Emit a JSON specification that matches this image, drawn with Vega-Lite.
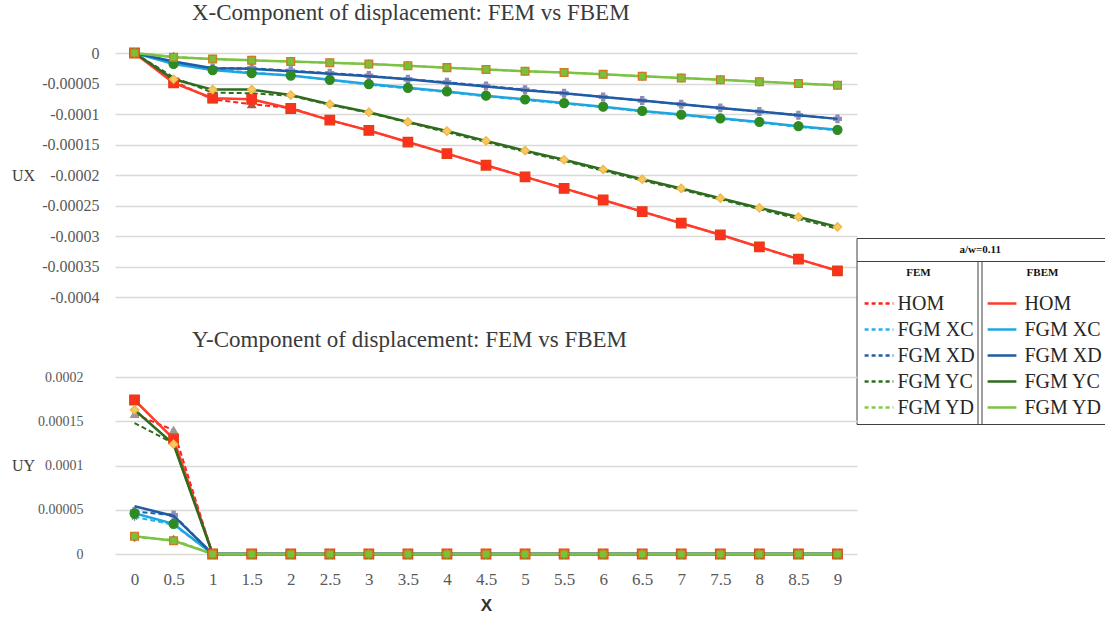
{
"$schema":"https://vega.github.io/schema/vega-lite/v6.json",
"padding":{"left":11,"top":2,"right":0,"bottom":0},
"bounds":"flush",
"spacing":80,
"config":{"view":{"stroke":null},"background":"white"},
"data":{"values":[
{"s":"HOM","x":0,"fem_ux":0,"fbem_ux":0,"fem_uy":0.000158,"fbem_uy":0.000174},
{"s":"HOM","x":0.5,"fem_ux":-0.000046,"fbem_ux":-0.000049,"fem_uy":0.00014,"fbem_uy":0.00013},
{"s":"HOM","x":1,"fem_ux":-0.000076,"fbem_ux":-0.000074,"fem_uy":0,"fbem_uy":0},
{"s":"HOM","x":1.5,"fem_ux":-0.000084,"fbem_ux":-0.000076,"fem_uy":0,"fbem_uy":0},
{"s":"HOM","x":2,"fem_ux":-0.00009,"fbem_ux":-0.000091,"fem_uy":0,"fbem_uy":0},
{"s":"HOM","x":2.5,"fem_ux":-0.00011,"fbem_ux":-0.00011,"fem_uy":0,"fbem_uy":0},
{"s":"HOM","x":3,"fem_ux":-0.000127,"fbem_ux":-0.000127,"fem_uy":0,"fbem_uy":0},
{"s":"HOM","x":3.5,"fem_ux":-0.000146,"fbem_ux":-0.000146,"fem_uy":0,"fbem_uy":0},
{"s":"HOM","x":4,"fem_ux":-0.000165,"fbem_ux":-0.000165,"fem_uy":0,"fbem_uy":0},
{"s":"HOM","x":4.5,"fem_ux":-0.000184,"fbem_ux":-0.000184,"fem_uy":0,"fbem_uy":0},
{"s":"HOM","x":5,"fem_ux":-0.000203,"fbem_ux":-0.000203,"fem_uy":0,"fbem_uy":0},
{"s":"HOM","x":5.5,"fem_ux":-0.000222,"fbem_ux":-0.000222,"fem_uy":0,"fbem_uy":0},
{"s":"HOM","x":6,"fem_ux":-0.000241,"fbem_ux":-0.000241,"fem_uy":0,"fbem_uy":0},
{"s":"HOM","x":6.5,"fem_ux":-0.00026,"fbem_ux":-0.00026,"fem_uy":0,"fbem_uy":0},
{"s":"HOM","x":7,"fem_ux":-0.000279,"fbem_ux":-0.000279,"fem_uy":0,"fbem_uy":0},
{"s":"HOM","x":7.5,"fem_ux":-0.000298,"fbem_ux":-0.000298,"fem_uy":0,"fbem_uy":0},
{"s":"HOM","x":8,"fem_ux":-0.000318,"fbem_ux":-0.000318,"fem_uy":0,"fbem_uy":0},
{"s":"HOM","x":8.5,"fem_ux":-0.000338,"fbem_ux":-0.000338,"fem_uy":0,"fbem_uy":0},
{"s":"HOM","x":9,"fem_ux":-0.000357,"fbem_ux":-0.000357,"fem_uy":0,"fbem_uy":0},
{"s":"FGM XC","x":0,"fem_ux":0,"fbem_ux":0,"fem_uy":0.000042,"fbem_uy":0.000046},
{"s":"FGM XC","x":0.5,"fem_ux":-0.000016,"fbem_ux":-0.000018,"fem_uy":0.000033,"fbem_uy":0.000034},
{"s":"FGM XC","x":1,"fem_ux":-0.000027,"fbem_ux":-0.000028,"fem_uy":0,"fbem_uy":0},
{"s":"FGM XC","x":1.5,"fem_ux":-0.000032,"fbem_ux":-0.000033,"fem_uy":0,"fbem_uy":0},
{"s":"FGM XC","x":2,"fem_ux":-0.000037,"fbem_ux":-0.000037,"fem_uy":0,"fbem_uy":0},
{"s":"FGM XC","x":2.5,"fem_ux":-0.000044,"fbem_ux":-0.000044,"fem_uy":0,"fbem_uy":0},
{"s":"FGM XC","x":3,"fem_ux":-0.000052,"fbem_ux":-0.000051,"fem_uy":0,"fbem_uy":0},
{"s":"FGM XC","x":3.5,"fem_ux":-0.000058,"fbem_ux":-0.000057,"fem_uy":0,"fbem_uy":0},
{"s":"FGM XC","x":4,"fem_ux":-0.000064,"fbem_ux":-0.000063,"fem_uy":0,"fbem_uy":0},
{"s":"FGM XC","x":4.5,"fem_ux":-0.000071,"fbem_ux":-0.00007,"fem_uy":0,"fbem_uy":0},
{"s":"FGM XC","x":5,"fem_ux":-0.000077,"fbem_ux":-0.000076,"fem_uy":0,"fbem_uy":0},
{"s":"FGM XC","x":5.5,"fem_ux":-0.000083,"fbem_ux":-0.000082,"fem_uy":0,"fbem_uy":0},
{"s":"FGM XC","x":6,"fem_ux":-0.000089,"fbem_ux":-0.000088,"fem_uy":0,"fbem_uy":0},
{"s":"FGM XC","x":6.5,"fem_ux":-0.000096,"fbem_ux":-0.000095,"fem_uy":0,"fbem_uy":0},
{"s":"FGM XC","x":7,"fem_ux":-0.000102,"fbem_ux":-0.000101,"fem_uy":0,"fbem_uy":0},
{"s":"FGM XC","x":7.5,"fem_ux":-0.000108,"fbem_ux":-0.000107,"fem_uy":0,"fbem_uy":0},
{"s":"FGM XC","x":8,"fem_ux":-0.000114,"fbem_ux":-0.000113,"fem_uy":0,"fbem_uy":0},
{"s":"FGM XC","x":8.5,"fem_ux":-0.000121,"fbem_ux":-0.00012,"fem_uy":0,"fbem_uy":0},
{"s":"FGM XC","x":9,"fem_ux":-0.000127,"fbem_ux":-0.000126,"fem_uy":0,"fbem_uy":0},
{"s":"FGM XD","x":0,"fem_ux":0,"fbem_ux":0,"fem_uy":0.000048,"fbem_uy":0.000054},
{"s":"FGM XD","x":0.5,"fem_ux":-0.000016,"fbem_ux":-0.000014,"fem_uy":0.000044,"fbem_uy":0.000043},
{"s":"FGM XD","x":1,"fem_ux":-0.000025,"fbem_ux":-0.000025,"fem_uy":0,"fbem_uy":0},
{"s":"FGM XD","x":1.5,"fem_ux":-0.000025,"fbem_ux":-0.000026,"fem_uy":0,"fbem_uy":0},
{"s":"FGM XD","x":2,"fem_ux":-0.000029,"fbem_ux":-0.00003,"fem_uy":0,"fbem_uy":0},
{"s":"FGM XD","x":2.5,"fem_ux":-0.000033,"fbem_ux":-0.000034,"fem_uy":0,"fbem_uy":0},
{"s":"FGM XD","x":3,"fem_ux":-0.000037,"fbem_ux":-0.000038,"fem_uy":0,"fbem_uy":0},
{"s":"FGM XD","x":3.5,"fem_ux":-0.000043,"fbem_ux":-0.000043,"fem_uy":0,"fbem_uy":0},
{"s":"FGM XD","x":4,"fem_ux":-0.000048,"fbem_ux":-0.000049,"fem_uy":0,"fbem_uy":0},
{"s":"FGM XD","x":4.5,"fem_ux":-0.000054,"fbem_ux":-0.000055,"fem_uy":0,"fbem_uy":0},
{"s":"FGM XD","x":5,"fem_ux":-0.00006,"fbem_ux":-0.000061,"fem_uy":0,"fbem_uy":0},
{"s":"FGM XD","x":5.5,"fem_ux":-0.000066,"fbem_ux":-0.000066,"fem_uy":0,"fbem_uy":0},
{"s":"FGM XD","x":6,"fem_ux":-0.000072,"fbem_ux":-0.000072,"fem_uy":0,"fbem_uy":0},
{"s":"FGM XD","x":6.5,"fem_ux":-0.000078,"fbem_ux":-0.000078,"fem_uy":0,"fbem_uy":0},
{"s":"FGM XD","x":7,"fem_ux":-0.000084,"fbem_ux":-0.000084,"fem_uy":0,"fbem_uy":0},
{"s":"FGM XD","x":7.5,"fem_ux":-0.00009,"fbem_ux":-0.00009,"fem_uy":0,"fbem_uy":0},
{"s":"FGM XD","x":8,"fem_ux":-0.000096,"fbem_ux":-0.000096,"fem_uy":0,"fbem_uy":0},
{"s":"FGM XD","x":8.5,"fem_ux":-0.000102,"fbem_ux":-0.000102,"fem_uy":0,"fbem_uy":0},
{"s":"FGM XD","x":9,"fem_ux":-0.000108,"fbem_ux":-0.000108,"fem_uy":0,"fbem_uy":0},
{"s":"FGM YC","x":0,"fem_ux":0,"fbem_ux":0,"fem_uy":0.000148,"fbem_uy":0.000163},
{"s":"FGM YC","x":0.5,"fem_ux":-0.00004,"fbem_ux":-0.000043,"fem_uy":0.000125,"fbem_uy":0.000124},
{"s":"FGM YC","x":1,"fem_ux":-0.000065,"fbem_ux":-0.00006,"fem_uy":0,"fbem_uy":0},
{"s":"FGM YC","x":1.5,"fem_ux":-0.000066,"fbem_ux":-0.00006,"fem_uy":0,"fbem_uy":0},
{"s":"FGM YC","x":2,"fem_ux":-0.00007,"fbem_ux":-0.000069,"fem_uy":0,"fbem_uy":0},
{"s":"FGM YC","x":2.5,"fem_ux":-0.000085,"fbem_ux":-0.000084,"fem_uy":0,"fbem_uy":0},
{"s":"FGM YC","x":3,"fem_ux":-0.000098,"fbem_ux":-0.000097,"fem_uy":0,"fbem_uy":0},
{"s":"FGM YC","x":3.5,"fem_ux":-0.000114,"fbem_ux":-0.000113,"fem_uy":0,"fbem_uy":0},
{"s":"FGM YC","x":4,"fem_ux":-0.00013,"fbem_ux":-0.000128,"fem_uy":0,"fbem_uy":0},
{"s":"FGM YC","x":4.5,"fem_ux":-0.000146,"fbem_ux":-0.000144,"fem_uy":0,"fbem_uy":0},
{"s":"FGM YC","x":5,"fem_ux":-0.000162,"fbem_ux":-0.00016,"fem_uy":0,"fbem_uy":0},
{"s":"FGM YC","x":5.5,"fem_ux":-0.000177,"fbem_ux":-0.000175,"fem_uy":0,"fbem_uy":0},
{"s":"FGM YC","x":6,"fem_ux":-0.000193,"fbem_ux":-0.000191,"fem_uy":0,"fbem_uy":0},
{"s":"FGM YC","x":6.5,"fem_ux":-0.000209,"fbem_ux":-0.000207,"fem_uy":0,"fbem_uy":0},
{"s":"FGM YC","x":7,"fem_ux":-0.000224,"fbem_ux":-0.000222,"fem_uy":0,"fbem_uy":0},
{"s":"FGM YC","x":7.5,"fem_ux":-0.00024,"fbem_ux":-0.000238,"fem_uy":0,"fbem_uy":0},
{"s":"FGM YC","x":8,"fem_ux":-0.000256,"fbem_ux":-0.000254,"fem_uy":0,"fbem_uy":0},
{"s":"FGM YC","x":8.5,"fem_ux":-0.000272,"fbem_ux":-0.000269,"fem_uy":0,"fbem_uy":0},
{"s":"FGM YC","x":9,"fem_ux":-0.000288,"fbem_ux":-0.000285,"fem_uy":0,"fbem_uy":0},
{"s":"FGM YD","x":0,"fem_ux":0,"fbem_ux":0,"fem_uy":0.000019,"fbem_uy":0.00002},
{"s":"FGM YD","x":0.5,"fem_ux":-0.000006,"fbem_ux":-0.000007,"fem_uy":0.000016,"fbem_uy":0.000015},
{"s":"FGM YD","x":1,"fem_ux":-0.00001,"fbem_ux":-0.00001,"fem_uy":0,"fbem_uy":0},
{"s":"FGM YD","x":1.5,"fem_ux":-0.000012,"fbem_ux":-0.000012,"fem_uy":0,"fbem_uy":0},
{"s":"FGM YD","x":2,"fem_ux":-0.000014,"fbem_ux":-0.000014,"fem_uy":0,"fbem_uy":0},
{"s":"FGM YD","x":2.5,"fem_ux":-0.000016,"fbem_ux":-0.000016,"fem_uy":0,"fbem_uy":0},
{"s":"FGM YD","x":3,"fem_ux":-0.000018,"fbem_ux":-0.000018,"fem_uy":0,"fbem_uy":0},
{"s":"FGM YD","x":3.5,"fem_ux":-0.000021,"fbem_ux":-0.000021,"fem_uy":0,"fbem_uy":0},
{"s":"FGM YD","x":4,"fem_ux":-0.000024,"fbem_ux":-0.000024,"fem_uy":0,"fbem_uy":0},
{"s":"FGM YD","x":4.5,"fem_ux":-0.000027,"fbem_ux":-0.000027,"fem_uy":0,"fbem_uy":0},
{"s":"FGM YD","x":5,"fem_ux":-0.00003,"fbem_ux":-0.00003,"fem_uy":0,"fbem_uy":0},
{"s":"FGM YD","x":5.5,"fem_ux":-0.000032,"fbem_ux":-0.000032,"fem_uy":0,"fbem_uy":0},
{"s":"FGM YD","x":6,"fem_ux":-0.000035,"fbem_ux":-0.000035,"fem_uy":0,"fbem_uy":0},
{"s":"FGM YD","x":6.5,"fem_ux":-0.000038,"fbem_ux":-0.000038,"fem_uy":0,"fbem_uy":0},
{"s":"FGM YD","x":7,"fem_ux":-0.000041,"fbem_ux":-0.000041,"fem_uy":0,"fbem_uy":0},
{"s":"FGM YD","x":7.5,"fem_ux":-0.000044,"fbem_ux":-0.000044,"fem_uy":0,"fbem_uy":0},
{"s":"FGM YD","x":8,"fem_ux":-0.000047,"fbem_ux":-0.000047,"fem_uy":0,"fbem_uy":0},
{"s":"FGM YD","x":8.5,"fem_ux":-0.00005,"fbem_ux":-0.00005,"fem_uy":0,"fbem_uy":0},
{"s":"FGM YD","x":9,"fem_ux":-0.000053,"fbem_ux":-0.000053,"fem_uy":0,"fbem_uy":0}
]},
"vconcat":[
{
"width":742,"height":244,
"title":{"text":"X-Component of displacement: FEM vs FBEM","anchor":"start","frame":"group","dx":77,"font":"Liberation Serif","fontSize":23,"fontWeight":"normal","color":"#3a3a3a","baseline":"alphabetic","offset":2},
"layer":[
{"data":{"values":[{"k":"a/w=0.11"},{"k":"zz"}]},"mark":{"type":"point","opacity":0},
 "encoding":{"color":{"field":"k","type":"nominal","scale":{"domain":["a/w=0.11","zz"],"range":["#000000","#000000"]},
  "legend":{"title":null,"orient":"none","direction":"horizontal","columns":2,"columnPadding":84,"legendX":741.5,"legendY":185,"strokeColor":"#404040","padding":6,"symbolSize":0,"symbolOpacity":0,"symbolOffset":0,"labelOffset":86,"labelFont":"Liberation Serif","labelFontSize":11,"labelFontWeight":"bold","labelColor":"#111111","labelExpr":"datum.label == 'zz' ? '' : datum.label"}}}},
{"encoding":{
  "x":{"field":"x","type":"quantitative","scale":{"domain":[-0.25,9.25],"nice":false,"zero":false},"axis":null},
  "y":{"field":"fem_ux","type":"quantitative","scale":{"domain":[-0.0004,0],"nice":false,"zero":false},
   "axis":{"values":[0,-0.00005,-0.0001,-0.00015,-0.0002,-0.00025,-0.0003,-0.00035,-0.0004],"labelExpr":"'' + datum.value","grid":true,"gridColor":"#d9d9d9","gridWidth":1.3,"domain":false,"ticks":false,"labelFont":"Liberation Serif","labelFontSize":16,"labelColor":"#595959","labelPadding":16,"title":"UX","titleAngle":0,"titleAlign":"right","titleBaseline":"middle","titleX":-80.5,"titleY":122,"titleFont":"Liberation Serif","titleFontSize":16,"titleFontWeight":"normal","titleColor":"#404040"}}},
 "layer":[
  {"mark":{"type":"line","strokeWidth":2,"strokeDash":[5,3]},
   "encoding":{"color":{"field":"s","type":"nominal","scale":{"domain":["HOM","FGM XC","FGM XD","FGM YC","FGM YD"],"range":["#ff1f1f","#2db0e8","#2060a8","#2f6e22","#86c94a"]},
    "legend":{"title":"FEM","orient":"none","legendX":741.5,"legendY":208,"strokeColor":"#404040","padding":6,"symbolType":"M-1.6,0L1.6,0","symbolSize":324,"symbolStrokeWidth":2.5,"symbolDash":[4,3],"symbolOffset":6,"labelOffset":8,"labelFont":"Liberation Serif","labelFontSize":20,"labelColor":"#262626","labelLimit":200,"titleFont":"Liberation Serif","titleFontSize":11,"titleFontWeight":"bold","titleColor":"#111111","titleAnchor":"middle","titlePadding":15,"rowPadding":5}}}},
  {"transform":[{"filter":"datum.s !== 'FGM YC'"}],
   "mark":{"type":"point","filled":true,"opacity":1,"strokeWidth":1.2,"size":60},
   "encoding":{
    "shape":{"field":"s","type":"nominal","scale":{"domain":["HOM","FGM XC","FGM XD","FGM YD"],"range":["triangle-up","M-1,0L1,0M0,-1L0,1M-0.7,-0.7L0.7,0.7M-0.7,0.7L0.7,-0.7","cross","diamond"]},"legend":null},
    "fill":{"field":"s","type":"nominal","scale":{"domain":["HOM","FGM XC","FGM XD","FGM YD"],"range":["#b5524a","#4c8c6a","#8e8cb8","#2e75b6"]},"legend":null},
    "stroke":{"field":"s","type":"nominal","scale":{"domain":["HOM","FGM XC","FGM XD","FGM YD"],"range":["#b5524a","#4c8c6a","#8e8cb8","#2e75b6"]},"legend":null}}}
 ]},
{"encoding":{
  "x":{"field":"x","type":"quantitative","scale":{"domain":[-0.25,9.25],"nice":false,"zero":false},"axis":null},
  "y":{"field":"fbem_ux","type":"quantitative","scale":{"domain":[-0.0004,0],"nice":false,"zero":false},
   "axis":{"values":[0,-0.00005,-0.0001,-0.00015,-0.0002,-0.00025,-0.0003,-0.00035,-0.0004],"labelExpr":"'' + datum.value","grid":true,"gridColor":"#d9d9d9","gridWidth":1.3,"domain":false,"ticks":false,"labelFont":"Liberation Serif","labelFontSize":16,"labelColor":"#595959","labelPadding":16,"title":"UX","titleAngle":0,"titleAlign":"right","titleBaseline":"middle","titleX":-80.5,"titleY":122,"titleFont":"Liberation Serif","titleFontSize":16,"titleFontWeight":"normal","titleColor":"#404040"}}},
 "layer":[
  {"mark":{"type":"line","strokeWidth":2.5},
   "encoding":{"color":{"field":"s","type":"nominal","scale":{"domain":["HOM","FGM XC","FGM XD","FGM YC","FGM YD"],"range":["#ff3b2a","#1ea6e0","#1f5ca5","#2e6b1e","#7cc243"]},
    "legend":{"title":"FBEM","orient":"none","legendX":862.5,"legendY":208,"strokeColor":"#404040","padding":6,"symbolType":"M-1.6,0L1.6,0","symbolSize":324,"symbolStrokeWidth":2.5,"symbolOffset":8,"labelOffset":12,"labelFont":"Liberation Serif","labelFontSize":20,"labelColor":"#262626","labelLimit":200,"titleFont":"Liberation Serif","titleFontSize":11,"titleFontWeight":"bold","titleColor":"#111111","titleAnchor":"middle","titlePadding":15,"rowPadding":5}}}},
  {"transform":[{"filter":"datum.s !== 'FGM XD'"}],
   "mark":{"type":"point","filled":true,"opacity":1,"strokeWidth":1.3},
   "encoding":{
    "shape":{"field":"s","type":"nominal","scale":{"domain":["HOM","FGM XC","FGM YC","FGM YD"],"range":["square","circle","diamond","square"]},"legend":null},
    "size":{"field":"s","type":"nominal","scale":{"domain":["HOM","FGM XC","FGM YC","FGM YD"],"range":[90,60,60,90]},"legend":null},
    "fill":{"field":"s","type":"nominal","scale":{"domain":["HOM","FGM XC","FGM YC","FGM YD"],"range":["#ff3020","#2e8b22","#f8c866","#76c23b"]},"legend":null},
    "stroke":{"field":"s","type":"nominal","scale":{"domain":["HOM","FGM XC","FGM YC","FGM YD"],"range":["#e04010","#2e8b22","#f0b840","#d2781e"]},"legend":null}}}
 ]}
],
"resolve":{"scale":{"color":"independent","fill":"independent","stroke":"independent","shape":"independent","size":"independent"}}
},
{
"width":742,"height":177,
"title":{"text":"Y-Component of displacement: FEM vs FBEM","anchor":"start","frame":"group","dx":77,"font":"Liberation Serif","fontSize":23,"fontWeight":"normal","color":"#3a3a3a","baseline":"alphabetic","offset":0},
"layer":[
{"encoding":{
  "x":{"field":"x","type":"quantitative","scale":{"domain":[-0.25,9.25],"nice":false,"zero":false},
   "axis":{"values":[0,0.5,1,1.5,2,2.5,3,3.5,4,4.5,5,5.5,6,6.5,7,7.5,8,8.5,9],"labelExpr":"'' + datum.value","grid":false,"ticks":false,"domain":false,"labelFont":"Liberation Serif","labelFontSize":17,"labelColor":"#595959","labelPadding":17,"title":"X","titleFont":"Liberation Sans","titleFontSize":17,"titleFontWeight":"bold","titleColor":"#333333","titlePadding":10}},
  "y":{"field":"fem_uy","type":"quantitative","scale":{"domain":[0,0.0002],"nice":false,"zero":false},
   "axis":{"values":[0,0.00005,0.0001,0.00015,0.0002],"labelExpr":"'' + datum.value","grid":true,"gridColor":"#d9d9d9","gridWidth":1.3,"domain":false,"ticks":false,"labelFont":"Liberation Serif","labelFontSize":14,"labelColor":"#595959","labelPadding":32,"title":"UY","titleAngle":0,"titleAlign":"right","titleBaseline":"middle","titleX":-80.5,"titleY":88,"titleFont":"Liberation Serif","titleFontSize":16,"titleFontWeight":"normal","titleColor":"#404040"}}},
 "layer":[
  {"mark":{"type":"line","strokeWidth":2,"strokeDash":[5,3]},
   "encoding":{"color":{"field":"s","type":"nominal","scale":{"domain":["HOM","FGM XC","FGM XD","FGM YC","FGM YD"],"range":["#ff1f1f","#2db0e8","#2060a8","#2f6e22","#86c94a"]},"legend":null}}},
  {"transform":[{"filter":"datum.s !== 'FGM YC'"}],
   "mark":{"type":"point","filled":true,"opacity":1,"strokeWidth":1.2,"size":60},
   "encoding":{
    "shape":{"field":"s","type":"nominal","scale":{"domain":["HOM","FGM XC","FGM XD","FGM YD"],"range":["triangle-up","M-1,0L1,0M0,-1L0,1M-0.7,-0.7L0.7,0.7M-0.7,0.7L0.7,-0.7","cross","diamond"]},"legend":null},
    "fill":{"field":"s","type":"nominal","scale":{"domain":["HOM","FGM XC","FGM XD","FGM YD"],"range":["#9a9a9a","#4c8c6a","#8e8cb8","#2e75b6"]},"legend":null},
    "stroke":{"field":"s","type":"nominal","scale":{"domain":["HOM","FGM XC","FGM XD","FGM YD"],"range":["#9a9a9a","#4c8c6a","#8e8cb8","#2e75b6"]},"legend":null}}}
 ]},
{"encoding":{
  "x":{"field":"x","type":"quantitative","scale":{"domain":[-0.25,9.25],"nice":false,"zero":false},
   "axis":{"values":[0,0.5,1,1.5,2,2.5,3,3.5,4,4.5,5,5.5,6,6.5,7,7.5,8,8.5,9],"labelExpr":"'' + datum.value","grid":false,"ticks":false,"domain":false,"labelFont":"Liberation Serif","labelFontSize":17,"labelColor":"#595959","labelPadding":17,"title":"X","titleFont":"Liberation Sans","titleFontSize":17,"titleFontWeight":"bold","titleColor":"#333333","titlePadding":10}},
  "y":{"field":"fbem_uy","type":"quantitative","scale":{"domain":[0,0.0002],"nice":false,"zero":false},
   "axis":{"values":[0,0.00005,0.0001,0.00015,0.0002],"labelExpr":"'' + datum.value","grid":true,"gridColor":"#d9d9d9","gridWidth":1.3,"domain":false,"ticks":false,"labelFont":"Liberation Serif","labelFontSize":14,"labelColor":"#595959","labelPadding":32,"title":"UY","titleAngle":0,"titleAlign":"right","titleBaseline":"middle","titleX":-80.5,"titleY":88,"titleFont":"Liberation Serif","titleFontSize":16,"titleFontWeight":"normal","titleColor":"#404040"}}},
 "layer":[
  {"mark":{"type":"line","strokeWidth":2.5},
   "encoding":{"color":{"field":"s","type":"nominal","scale":{"domain":["HOM","FGM XC","FGM XD","FGM YC","FGM YD"],"range":["#ff3b2a","#1ea6e0","#1f5ca5","#2e6b1e","#7cc243"]},"legend":null}}},
  {"transform":[{"filter":"datum.s !== 'FGM XD'"}],
   "mark":{"type":"point","filled":true,"opacity":1,"strokeWidth":1.3},
   "encoding":{
    "shape":{"field":"s","type":"nominal","scale":{"domain":["HOM","FGM XC","FGM YC","FGM YD"],"range":["square","circle","diamond","square"]},"legend":null},
    "size":{"field":"s","type":"nominal","scale":{"domain":["HOM","FGM XC","FGM YC","FGM YD"],"range":[90,60,60,90]},"legend":null},
    "fill":{"field":"s","type":"nominal","scale":{"domain":["HOM","FGM XC","FGM YC","FGM YD"],"range":["#ff3020","#2e8b22","#f8c866","#76c23b"]},"legend":null},
    "stroke":{"field":"s","type":"nominal","scale":{"domain":["HOM","FGM XC","FGM YC","FGM YD"],"range":["#e04010","#2e8b22","#f0b840","#d2781e"]},"legend":null}}}
 ]}
],
"resolve":{"scale":{"color":"independent","fill":"independent","stroke":"independent","shape":"independent","size":"independent"}}
}
]
}
